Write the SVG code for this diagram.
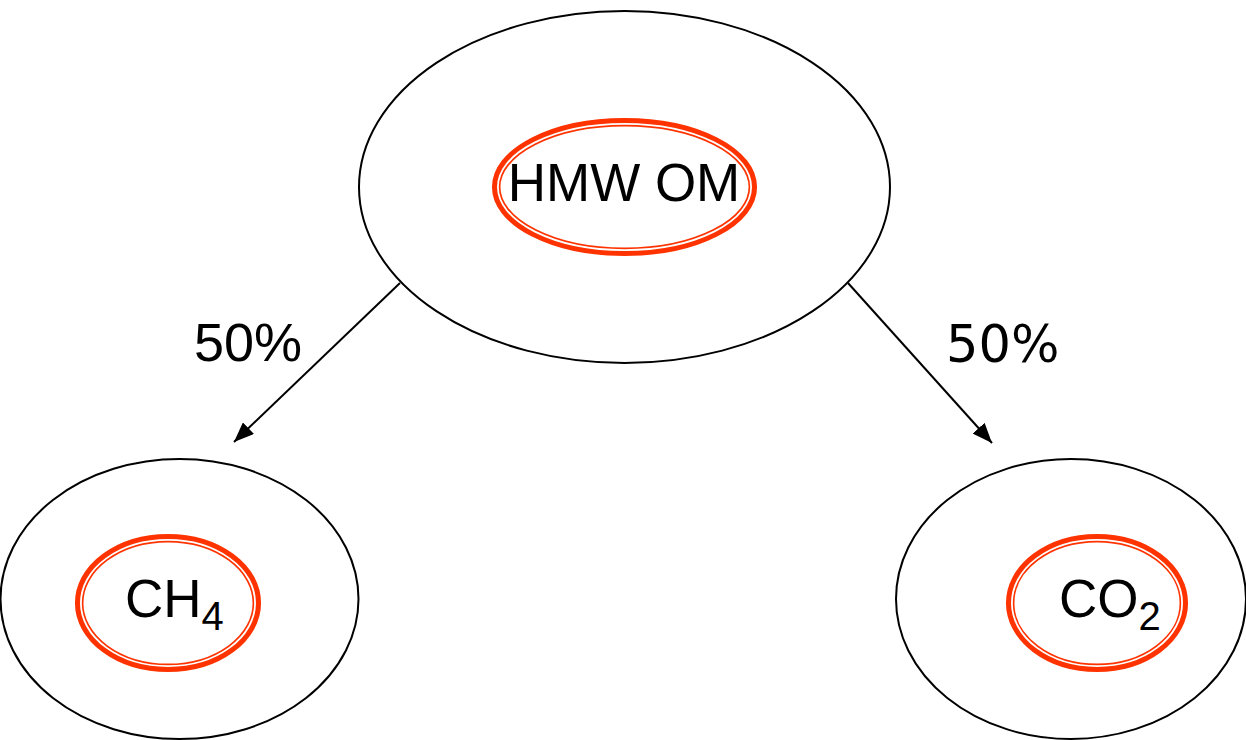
<svg xmlns="http://www.w3.org/2000/svg" width="1246" height="740" viewBox="0 0 1246 740">
<style>
.outer{fill:#fff;stroke:#000;stroke-width:2}
.red{fill:none;stroke:#ff3300;stroke-width:8.5}
.gap{fill:none;stroke:#fff;stroke-width:1.8}
.lbl{font-family:"Liberation Sans",Arial,sans-serif;fill:#000}
.conn{stroke:#000;stroke-width:2;fill:none}
</style>
<defs>
<marker id="arr" viewBox="0 0 20 16" refX="20" refY="8" markerWidth="20" markerHeight="16" markerUnits="userSpaceOnUse" orient="auto">
<path d="M0,0 L20,8 L0,16 z" fill="#000"/>
</marker>
</defs>
<rect width="1246" height="740" fill="#fff"/>
<g id="hmw">
<ellipse class="outer" cx="624.5" cy="187" rx="265.5" ry="176"/>
<ellipse class="red" cx="624.5" cy="187" rx="128.3" ry="64.8"/>
<ellipse class="gap" cx="624.5" cy="187" rx="126.6" ry="63.1"/>
<text class="lbl" x="624" y="201" font-size="53" text-anchor="middle">HMW OM</text>
</g>
<g id="ch4">
<ellipse class="outer" cx="179.5" cy="599" rx="179" ry="140"/>
<ellipse class="red" cx="168" cy="603" rx="88.8" ry="64.8"/>
<ellipse class="gap" cx="168" cy="603" rx="87.1" ry="63.1"/>
<text class="lbl" x="125" y="617" font-size="53">CH<tspan font-size="40" dy="13">4</tspan></text>
</g>
<g id="co2">
<ellipse class="outer" cx="1071" cy="599" rx="175" ry="140"/>
<ellipse class="red" cx="1097" cy="603" rx="86.8" ry="64.8"/>
<ellipse class="gap" cx="1097" cy="603" rx="85.1" ry="63.1"/>
<text class="lbl" x="1059" y="617" font-size="53">CO<tspan font-size="40" dy="13">2</tspan></text>
</g>
<g id="connectors">
<line class="conn" x1="400" y1="283" x2="234" y2="442" marker-end="url(#arr)"/>
<line class="conn" x1="848" y1="283" x2="992" y2="443" marker-end="url(#arr)"/>
<text class="lbl" x="194" y="361" font-size="54">50%</text>
<text x="946" y="362" font-size="51" style="font-family:'DejaVu Sans',Verdana,sans-serif">50%</text>
</g>
</svg>
